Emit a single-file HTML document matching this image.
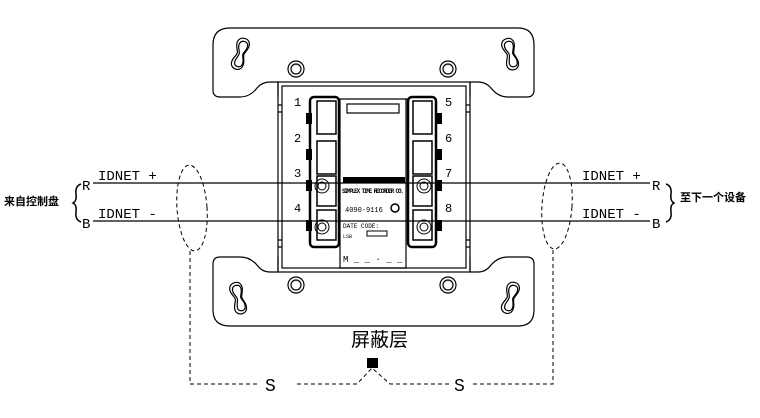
<!DOCTYPE html>
<html><head><meta charset="utf-8"><style>
html,body{margin:0;padding:0;background:#fff;}
svg{display:block}
text{font-family:"Liberation Mono","Noto Sans CJK SC",monospace;fill:#000}
</style></head><body>
<svg width="760" height="418" viewBox="0 0 760 418" xmlns="http://www.w3.org/2000/svg">
<defs>
<g id="kh" fill="none" stroke="#000" stroke-width="1.2">
<path d="M0,-16 c-6,0 -8,5 -6,10 l2,5 c1,3 -3,6 -3,11 c0,4 3,6 6,6 c4,0 6,-3 6,-7 c0,-4 -3,-8 -2,-10 l2,-5 c2,-5 0,-10 -5,-10z"/>
<path d="M0,-13 c-4,0 -5,4 -4,7 l2,5 c1,3 -2,6 -2,10 c0,3 2,4 4,4 c3,0 4,-2 4,-5 c0,-4 -3,-7 -2,-9 l2,-5 c1,-4 0,-7 -4,-7z"/>
</g>
</defs>
<g fill="none" stroke="#000" stroke-width="1.2">
<path d="M278,97 L278,82 L270,82 Q262,82 257,88 Q250,97 240,97 L220,97 Q213,97 213,90 L213,45 Q213,28 230,28 L518,28 Q534,28 534,45 L534,90 Q534,97 527,97 L508,97 Q498,97 491,88 Q486,82 478,82 L470,82 L470,97"/>
<path d="M278,257 L278,272 L270,272 Q262,272 257,265 Q250,257 240,257 L220,257 Q213,257 213,264 L213,310 Q213,326 230,326 L518,326 Q534,326 534,310 L534,264 Q534,257 527,257 L508,257 Q498,257 491,265 Q486,272 478,272 L470,272 L470,257"/>
<rect x="278" y="82" width="192" height="190"/>
<rect x="282" y="86" width="184" height="182"/>
<path d="M278,105 h4 M278,112 h4 M466,105 h4 M466,112 h4 M278,240 h4 M278,247 h4 M466,240 h4 M466,247 h4"/>
<circle cx="296" cy="69" r="8"/><circle cx="296" cy="69" r="5"/>
<circle cx="448" cy="69" r="8"/><circle cx="448" cy="69" r="5"/>
<circle cx="296" cy="285" r="8"/><circle cx="296" cy="285" r="5"/>
<circle cx="448" cy="285" r="8"/><circle cx="448" cy="285" r="5"/>
</g>
<use href="#kh" transform="translate(241,54) rotate(15)"/>
<use href="#kh" transform="translate(511,54) rotate(-15)"/>
<use href="#kh" transform="translate(239,298) rotate(-15)"/>
<use href="#kh" transform="translate(511,298) rotate(15)"/>
<g fill="none" stroke="#000">
<rect x="310" y="97" width="29" height="150" rx="4" stroke-width="2.5"/>
<rect x="408" y="97" width="28" height="150" rx="4" stroke-width="2.5"/>
<path d="M339,99 L408,99 M340,99 L340,268 L406,268 L406,99" stroke-width="1.2"/>
<rect x="347" y="104" width="52" height="9" stroke-width="1.2"/>
<g stroke-width="1.5">
<rect x="317" y="101" width="19" height="33"/><rect x="317" y="141" width="19" height="33"/>
<rect x="413" y="101" width="19" height="33"/><rect x="413" y="141" width="19" height="33"/>
<rect x="317" y="176" width="19" height="30"/><rect x="317" y="210" width="19" height="30"/>
<rect x="413" y="176" width="19" height="30"/><rect x="413" y="210" width="19" height="30"/>
</g>
<g stroke-width="1"><circle cx="322" cy="186" r="7"/><circle cx="322" cy="186" r="4"/>
<circle cx="322" cy="227" r="7"/><circle cx="322" cy="227" r="4"/>
<circle cx="424" cy="186" r="7"/><circle cx="424" cy="186" r="4"/>
<circle cx="424" cy="227" r="7"/><circle cx="424" cy="227" r="4"/>
<circle cx="395" cy="208" r="4" stroke-width="1.5"/>
<rect x="367" y="231" width="20" height="5"/></g>
</g>
<g fill="#000"><rect x="306" y="113" width="6" height="11"/><rect x="306" y="149" width="6" height="11"/><rect x="306" y="180" width="6" height="11"/><rect x="306" y="220" width="6" height="11"/>
<rect x="436" y="113" width="6" height="11"/><rect x="436" y="149" width="6" height="11"/><rect x="436" y="180" width="6" height="11"/><rect x="436" y="220" width="6" height="11"/>
<rect x="343" y="177" width="62" height="6"/>
<rect x="367" y="358" width="11" height="10"/></g>
<g font-family="Liberation Sans Narrow,Liberation Sans,sans-serif">
<text x="342" y="193" font-size="6" font-weight="bold" textLength="62">SIMPLEX TIME RECORDER CO.</text>
<text x="345" y="212" font-size="7">4090-9116</text>
<text x="343" y="228" font-size="6">DATE CODE:</text>
<text x="343" y="238" font-size="5">LSB</text>
<text x="343" y="262" font-size="9">M _ _ · _ _</text>
</g>
<g font-size="12">
<text x="294" y="106">1</text><text x="294" y="142">2</text><text x="294" y="177">3</text><text x="294" y="212">4</text>
<text x="445" y="106">5</text><text x="445" y="142">6</text><text x="445" y="177">7</text><text x="445" y="212">8</text>
</g>
<g stroke="#000" stroke-width="1.2">
<line x1="93" y1="183" x2="650" y2="183"/>
<line x1="93" y1="221" x2="650" y2="221"/>
</g>
<g font-size="14">
<text x="98" y="180">IDNET +</text><text x="98" y="218">IDNET -</text>
<text x="582" y="180">IDNET +</text><text x="582" y="218">IDNET -</text>
<text x="82" y="190">R</text><text x="82" y="228">B</text>
<text x="652" y="190">R</text><text x="652" y="228">B</text>
</g>
<g fill="none" stroke="#000" stroke-width="1.5">
<path d="M81,184 Q75,186 76,194 Q77,201 73,203 Q77,205 76,212 Q75,220 81,222"/>
<path d="M666,184 Q672,186 671,194 Q670,201 674,203 Q670,205 671,212 Q672,220 666,222"/>
</g>
<text x="4" y="205" font-size="11" font-weight="bold" font-family="'Noto Sans CJK SC',sans-serif">来自控制盘</text>
<text x="680" y="201" font-size="11" font-weight="bold" font-family="'Noto Sans CJK SC',sans-serif">至下一个设备</text>
<text x="351" y="346" font-size="19" font-family="'Noto Serif CJK SC','Noto Sans CJK SC',serif">屏蔽层</text>
<g fill="none" stroke="#000" stroke-width="1" stroke-dasharray="4,3">
<ellipse cx="192" cy="208" rx="15" ry="43" transform="rotate(-4 192 208)"/>
<ellipse cx="557" cy="206" rx="15" ry="43" transform="rotate(4 557 206)"/>
<path d="M190,251 L190,384 L260,384 M297,384 L357,384 L372,368 L390,384 L450,384 M473,384 L553,384 L553,250"/>
</g>
<text x="265" y="391" font-size="18">S</text><text x="454" y="391" font-size="18">S</text>
</svg>
</body></html>
